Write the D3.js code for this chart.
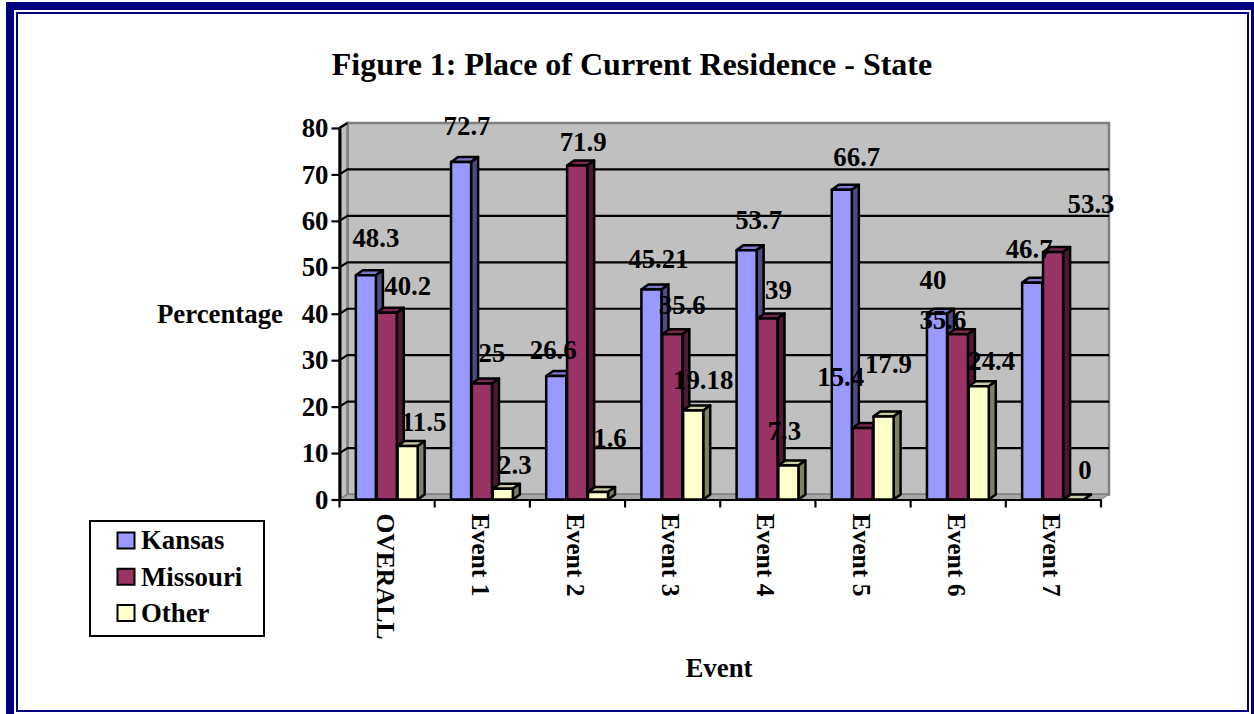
<!DOCTYPE html>
<html>
<head>
<meta charset="utf-8">
<script src="https://cdn.jsdelivr.net/npm/d3@7"></script>
<style>
  html, body { margin: 0; padding: 0; background: #fff; overflow: hidden; }
  svg { display: block; }
  text { font-family: "Liberation Serif", serif; font-weight: bold; fill: #000; }
</style>
</head>
<body>
<div id="plotholder"></div>
<script>
const CATEGORIES = ['OVERALL', 'Event 1', 'Event 2', 'Event 3', 'Event 4', 'Event 5', 'Event 6', 'Event 7']
const SERIES = ['Kansas', 'Missouri', 'Other']
const KANSAS = [48.3, 72.7, 26.6, 45.21, 53.7, 66.7, 40, 46.7]
const MISSOURI = [40.2, 25, 71.9, 35.6, 39, 15.4, 35.6, 53.3]
const OTHER = [11.5, 2.3, 1.6, 19.18, 7.3, 17.9, 24.4, 0]
const YTICKS = [0, 10, 20, 30, 40, 50, 60, 70, 80]

const FRONT = { Kansas: '#9999ff', Missouri: '#993366', Other: '#ffffcc' }
const TOP = { Kansas: '#7a7acc', Missouri: '#7a2952', Other: '#cccca3' }
const SIDE = { Kansas: '#4d4d80', Missouri: '#4d1a33', Other: '#808066' }

// the labels in the picture sit wherever they were dragged to, so nudge each one
// from its bar top: one [dx, dy] per category, per series
const NUDGE = {
  Kansas: [[10, -37], [6, -36], [-3, -26], [7, -30], [12, -30], [15, -33], [-4, -34], [-3, -33]],
  Missouri: [[21, -27], [10, -30], [6, -23], [10, -29], [11, -28], [-22, -51], [-15, -14], [38, -48]],
  Other: [[16, -24], [12, -24], [12, -54], [10, -30], [-4, -34], [5, -52], [13, -25], [11, -29]],
}

const width = 1254
const height = 714
const plot = { x0: 339.5, x1: 1101, y0: 499.5, y1: 128 }
const wallshift = { x: 8, y: -5 }
const barshift = { x: 7, y: -5 }
const FONTSIZE = 26.8

const svg = d3.select('#plotholder').append('svg')
  .attr('width', width)
  .attr('height', height)

const xscale = d3.scaleBand().domain(CATEGORIES).range([plot.x0, plot.x1])
const barscale = d3.scaleBand().domain(SERIES).range([15.5, 79]).padding(0.04)
const yscale = d3.scaleLinear().domain([0, 80]).range([plot.y0, plot.y1])

const poly = pts => pts.map(p => p.join(',')).join(' ')

const drawframe = () => {
  // thick navy frame runs off the bottom of the image
  svg.append('rect').attr('x', 10).attr('y', 6).attr('width', 1245).attr('height', 730)
    .attr('fill', 'none').attr('stroke', '#000080').attr('stroke-width', 8)
  svg.append('rect').attr('x', 17).attr('y', 13).attr('width', 1231).attr('height', 698)
    .attr('fill', 'none').attr('stroke', '#000080').attr('stroke-width', 2)
}

const drawwalls = () => {
  const { x0, x1, y0, y1 } = plot
  const dx = wallshift.x
  const dy = wallshift.y
  const edge = '#808080'
  svg.append('polygon')
    .attr('points', poly([[x0 + dx, y1 + dy], [x1 + dx, y1 + dy], [x1 + dx, y0 + dy], [x0 + dx, y0 + dy]]))
    .attr('fill', '#c0c0c0').attr('stroke', edge).attr('stroke-width', 2.5)
  svg.append('polygon')
    .attr('points', poly([[x0, y1], [x0 + dx, y1 + dy], [x0 + dx, y0 + dy], [x0, y0]]))
    .attr('fill', '#c0c0c0').attr('stroke', edge).attr('stroke-width', 2.5)
  svg.append('polygon')
    .attr('points', poly([[x0, y0], [x0 + dx, y0 + dy], [x1 + dx, y0 + dy], [x1, y0]]))
    .attr('fill', '#a6a6a6').attr('stroke', edge).attr('stroke-width', 1)

  svg.append('g').selectAll('polyline')
    .data(YTICKS.slice(1, -1).concat(80))
    .enter()
    .append('polyline')
    .attr('points', d => {
      const y = yscale(d)
      return poly([[x0, y], [x0 + dx, y + dy], d === 80 ? [x0 + dx, y + dy] : [x1 + dx, y + dy]])
    })
    .attr('fill', 'none')
    .attr('stroke', '#000')
    .attr('stroke-width', 2.2)
}

const drawaxes = () => {
  const yaxis = d3.axisLeft(yscale).tickValues(YTICKS).tickSize(8).tickSizeOuter(0).tickPadding(3)
  const xaxis = d3.axisBottom(xscale).tickSize(0)

  const yg = svg.append('g').attr('transform', `translate(${plot.x0},0)`).call(yaxis)
  yg.selectAll('line').attr('stroke', '#000').attr('stroke-width', 2.2)
  yg.select('.domain').attr('stroke', '#000').attr('stroke-width', 3)
  yg.selectAll('text').style('font-size', FONTSIZE + 'px').style('font-family', '"Liberation Serif", serif')

  const xg = svg.append('g').attr('transform', `translate(0,${plot.y0})`).call(xaxis)
  xg.select('.domain').attr('stroke', '#000').attr('stroke-width', 2)
  xg.selectAll('.tick line').remove()
  xg.selectAll('.tick text')
    .attr('transform', 'rotate(90)')
    .attr('x', 14)
    .attr('y', 2)
    .attr('dy', '0.33em')
    .attr('text-anchor', 'start')
    .style('font-size', '25.5px')
    .style('font-family', '"Liberation Serif", serif')

  // ticks sit on the category boundaries, not the centres
  xg.selectAll('.edge')
    .data(d3.range(CATEGORIES.length + 1))
    .enter()
    .append('line')
    .attr('class', 'edge')
    .attr('x1', i => plot.x0 + i * xscale.step())
    .attr('x2', i => plot.x0 + i * xscale.step())
    .attr('y1', 0)
    .attr('y2', 8)
    .attr('stroke', '#000')
    .attr('stroke-width', 2.2)
}

const drawbars = () => {
  const values = { Kansas: KANSAS, Missouri: MISSOURI, Other: OTHER }
  const bw = barscale.bandwidth()
  const rows = CATEGORIES.flatMap((cat, c) => SERIES.map(name => ({
    cat, name, value: values[name][c], nudge: NUDGE[name][c],
  })))
  const left = d => xscale(d.cat) + barscale(d.name)

  const bars = svg.append('g').selectAll('g')
    .data(rows)
    .enter()
    .append('g')
    .attr('stroke', '#000')
    .attr('stroke-width', 2.5)
    .attr('stroke-linejoin', 'round')

  bars.append('polygon')
    .attr('fill', d => TOP[d.name])
    .attr('points', d => {
      const x = left(d)
      const y = yscale(d.value)
      return poly([[x, y], [x + barshift.x, y + barshift.y], [x + bw + barshift.x, y + barshift.y], [x + bw, y]])
    })
  bars.append('polygon')
    .attr('fill', d => SIDE[d.name])
    .attr('points', d => {
      const x = left(d) + bw
      const y = yscale(d.value)
      return poly([[x, y], [x + barshift.x, y + barshift.y], [x + barshift.x, plot.y0 + barshift.y], [x, plot.y0]])
    })
  bars.append('rect')
    .attr('fill', d => FRONT[d.name])
    .attr('x', left)
    .attr('y', d => yscale(d.value))
    .attr('width', bw)
    .attr('height', d => plot.y0 - yscale(d.value))

  svg.append('g').selectAll('text')
    .data(rows)
    .enter()
    .append('text')
    .attr('x', d => left(d) + bw / 2 + d.nudge[0])
    .attr('y', d => yscale(d.value) + d.nudge[1])
    .attr('dy', '0.33em')
    .attr('text-anchor', 'middle')
    .style('font-size', FONTSIZE + 'px')
    .text(d => d.value)
}

const drawtitles = () => {
  svg.append('text').attr('x', 632).attr('y', 75).attr('text-anchor', 'middle')
    .style('font-size', '32px').text('Figure 1: Place of Current Residence - State')
  svg.append('text').attr('x', 220).attr('y', 323).attr('text-anchor', 'middle')
    .style('font-size', FONTSIZE + 'px').text('Percentage')
  svg.append('text').attr('x', 719).attr('y', 677).attr('text-anchor', 'middle')
    .style('font-size', FONTSIZE + 'px').text('Event')
}

const drawlegend = () => {
  const box = svg.append('g').attr('transform', 'translate(90,521)')
  box.append('rect').attr('width', 174).attr('height', 115)
    .attr('fill', '#fff').attr('stroke', '#000').attr('stroke-width', 2)
  const rowscale = d3.scalePoint().domain(SERIES).range([19.5, 92])
  const rows = box.selectAll('g')
    .data(SERIES)
    .enter()
    .append('g')
    .attr('transform', d => `translate(0,${rowscale(d)})`)
  rows.append('rect').attr('x', 27.5).attr('y', -8).attr('width', 17).attr('height', 16)
    .attr('fill', d => FRONT[d]).attr('stroke', '#000').attr('stroke-width', 2)
  rows.append('text').attr('x', 51).attr('y', 0).attr('dy', '0.33em')
    .style('font-size', FONTSIZE + 'px').text(d => d)
}

drawframe()
drawwalls()
drawaxes()
drawbars()
drawtitles()
drawlegend()
</script>
</body>
</html>
